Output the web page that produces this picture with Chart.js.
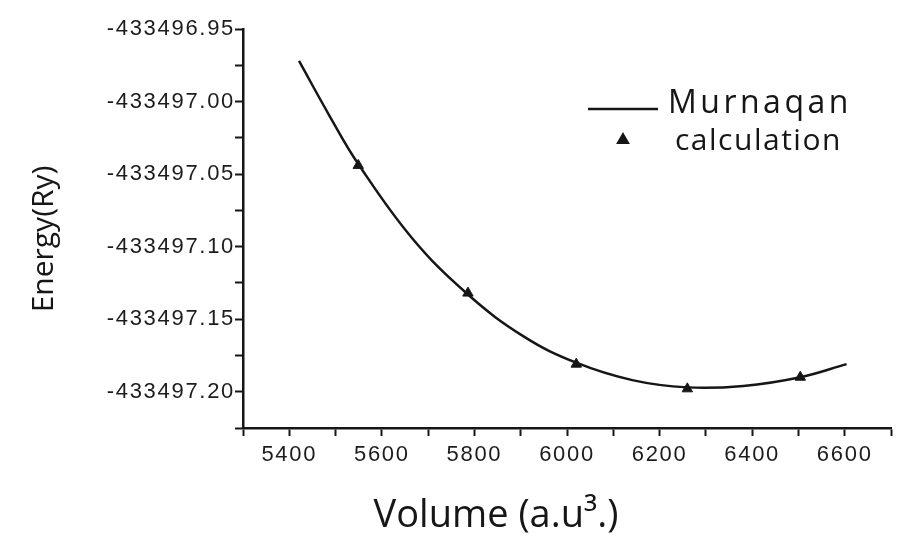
<!DOCTYPE html>
<html>
<head>
<meta charset="utf-8">
<script src="https://cdn.jsdelivr.net/npm/chart.js@4.4.1/dist/chart.umd.min.js"></script>
<style>
  html, body { margin: 0; padding: 0; background: #fff; }
  #wrap { width: 898px; height: 537px; }
</style>
</head>
<body>
<div id="wrap"><canvas id="chart"></canvas></div>
<script>
// Murnaghan fit curve
const fitVolume = [5421, 5489, 5549, 5665, 5786, 5907, 6020, 6141, 6260, 6381, 6504, 6604];
const fitEnergy = [-433496.972, -433497.011, -433497.043, -433497.094, -433497.133, -433497.162,
  -433497.180, -433497.192, -433497.197, -433497.196, -433497.190, -433497.181];

// calculated points (triangles)
const calcVolume = [5549, 5786, 6020, 6260, 6504];
const calcEnergy = [-433497.044, -433497.132, -433497.181, -433497.198, -433497.190];

// axis ticks
const xMajorTicks = [5400, 5600, 5800, 6000, 6200, 6400, 6600];
const xMinorTicks = [5300, 5500, 5700, 5900, 6100, 6300, 6500, 6700];
const yMajorTicks = [-433496.95, -433497.00, -433497.05, -433497.10, -433497.15, -433497.20];
const yMinorTicks = [-433496.975, -433497.025, -433497.075, -433497.125, -433497.175, -433497.225];

const isMajor = (list, v) => list.some(t => Math.abs(t - v) < 1e-6);

const tickFont = { family: "'Liberation Sans', Arial, sans-serif", size: 22 };
const ink = '#161616';

// the scanned tick labels are spaced out a bit
const spacedTicks = {
  id: 'spacedTicks',
  beforeDraw(chart) { chart.ctx.letterSpacing = '1.7px'; },
  beforeDatasetsDraw(chart) { chart.ctx.letterSpacing = '0px'; },
};

// axis titles + legend drawn where the original has them
const extras = {
  id: 'extras',
  afterDraw(chart) {
    const ctx = chart.ctx;
    ctx.save();
    ctx.fillStyle = ink;
    ctx.strokeStyle = ink;
    ctx.letterSpacing = '0px';

    // x title
    ctx.font = '38px "Open Sans"';
    ctx.textAlign = 'center';
    ctx.textBaseline = 'alphabetic';
    ctx.fillText('Volume (a.u³.)', 496, 527);

    // y title
    ctx.save();
    ctx.translate(53, 239);
    ctx.rotate(-Math.PI / 2);
    ctx.font = '30px "Open Sans"';
    ctx.fillText('Energy(Ry)', 0, 0);
    ctx.restore();

    // legend
    ctx.lineWidth = 2.5;
    ctx.beginPath();
    ctx.moveTo(588, 109);
    ctx.lineTo(658, 109);
    ctx.stroke();
    Chart.helpers.drawPoint(ctx, { pointStyle: 'triangle', radius: 5.5, rotation: 0, borderWidth: 1 }, 623, 140);
    ctx.fill();

    ctx.textAlign = 'left';
    ctx.font = '32px "Open Sans"';
    ctx.letterSpacing = '3.5px';
    ctx.fillText('Murnaqan', 668, 113);
    ctx.font = '30px "Open Sans"';
    ctx.letterSpacing = '1.5px';
    ctx.fillText('calculation', 675, 150);
    ctx.restore();
  }
};

new Chart(document.getElementById('chart'), {
  type: 'scatter',
  data: {
    datasets: [
      {
        label: 'Murnaqan',
        data: fitVolume.map((v, i) => ({ x: v, y: fitEnergy[i] })),
        showLine: true,
        borderColor: ink,
        borderWidth: 2.5,
        pointRadius: 0,
        tension: 0.4,
      },
      {
        label: 'calculation',
        data: calcVolume.map((v, i) => ({ x: v, y: calcEnergy[i] })),
        pointStyle: 'triangle',
        pointRadius: 6,
        backgroundColor: ink,
        borderColor: ink,
        borderWidth: 1,
      },
    ],
  },
  options: {
    responsive: true,
    maintainAspectRatio: false,
    animation: false,
    layout: { padding: { top: 29, right: 0, left: 0, bottom: 0 } },
    plugins: {
      legend: { display: false },
      tooltip: { enabled: false },
    },
    scales: {
      x: {
        type: 'linear',
        min: 5300,
        max: 6700,
        afterBuildTicks: (scale) => {
          scale.ticks = [...xMajorTicks, ...xMinorTicks].sort((a, b) => a - b).map(v => ({ value: v }));
        },
        afterFit: (scale) => { scale.height = 109; },
        border: { display: true, color: ink, width: 2.5 },
        grid: { drawOnChartArea: false, drawTicks: true, tickLength: 8, tickWidth: 2, tickColor: ink },
        ticks: {
          autoSkip: false,
          maxRotation: 0,
          padding: 6,
          color: '#1c1c1c',
          font: tickFont,
          callback: (v) => (isMajor(xMajorTicks, v) ? String(v) : ''),
        },
      },
      y: {
        type: 'linear',
        min: -433497.225,
        max: -433496.95,
        afterBuildTicks: (scale) => {
          scale.ticks = [...yMajorTicks, ...yMinorTicks].sort((a, b) => a - b).map(v => ({ value: v }));
        },
        afterFit: (scale) => { scale.width = 243; },
        border: { display: true, color: ink, width: 2.5 },
        grid: { drawOnChartArea: false, drawTicks: true, tickLength: 8, tickWidth: 2, tickColor: ink },
        ticks: {
          autoSkip: false,
          padding: 0,
          color: '#1c1c1c',
          font: tickFont,
          callback: (v) => (isMajor(yMajorTicks, v) ? v.toFixed(2) : ''),
        },
      },
    },
  },
  plugins: [spacedTicks, extras],
});
</script>
</body>
</html>
